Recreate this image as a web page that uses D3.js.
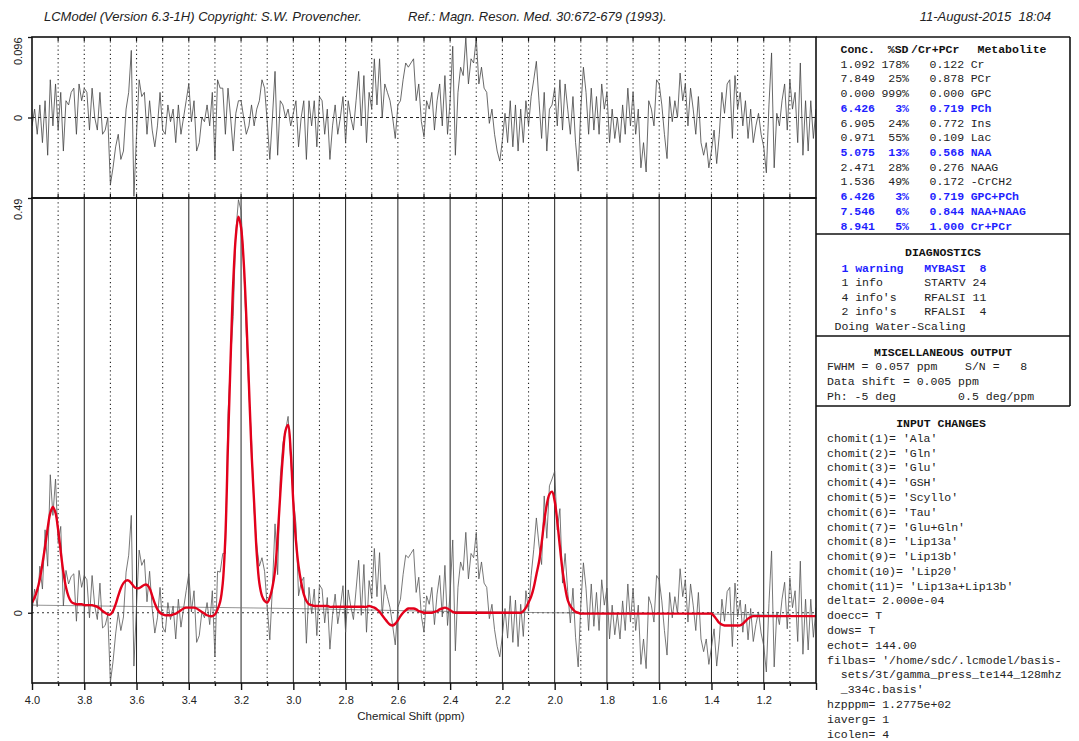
<!DOCTYPE html>
<html>
<head>
<meta charset="utf-8">
<script src="https://cdn.jsdelivr.net/npm/d3@7"></script>
<style>
  body { margin: 0; background: #fff; }
  svg { display: block; font-family: "Liberation Sans", Arial, sans-serif; }
  .mono { font-family: "Liberation Mono", "Courier New", monospace; font-size: 11.5px; white-space: pre; }
</style>
</head>
<body>
<svg id="chart" width="1079" height="741"></svg>
<script>
// LCModel の出力ページ（スペクトル + フィット + 残差 + 結果表）

// ---- スペクトルデータ（4.00 → 1.00 ppm, 0.01 ppm 刻み）----
const fitValues = [
  0.012, 0.018, 0.027, 0.040, 0.058, 0.078, 0.100, 0.118, 0.125, 0.118,
  0.098, 0.072, 0.048, 0.030, 0.019, 0.013, 0.011, 0.010, 0.010, 0.010,
  0.009, 0.009, 0.009, 0.009, 0.008, 0.007, 0.005, 0.002, 0.000, -0.002,
  -0.002, 0.002, 0.010, 0.020, 0.029, 0.035, 0.038, 0.038, 0.035, 0.031,
  0.029, 0.029, 0.031, 0.033, 0.033, 0.029, 0.020, 0.011, 0.004, 0.000,
  -0.002, -0.003, -0.003, -0.003, -0.002, -0.001, 0.001, 0.003, 0.005, 0.006,
  0.006, 0.006, 0.006, 0.005, 0.003, 0.001, -0.001, -0.003, -0.004, -0.004,
  -0.002, 0.004, 0.013, 0.035, 0.090, 0.200, 0.300, 0.390, 0.445, 0.468,
  0.455, 0.415, 0.350, 0.270, 0.190, 0.130, 0.070, 0.035, 0.020, 0.014,
  0.012, 0.018, 0.030, 0.050, 0.090, 0.140, 0.185, 0.215, 0.222, 0.190,
  0.130, 0.085, 0.055, 0.036, 0.022, 0.014, 0.010, 0.009, 0.008, 0.008,
  0.008, 0.008, 0.008, 0.008, 0.007, 0.007, 0.007, 0.007, 0.007, 0.007,
  0.007, 0.007, 0.007, 0.007, 0.007, 0.007, 0.007, 0.007, 0.007, 0.008,
  0.007, 0.006, 0.004, 0.001, -0.003, -0.007, -0.011, -0.014, -0.015, -0.013,
  -0.009, -0.004, 0.000, 0.003, 0.005, 0.005, 0.005, 0.004, 0.002, 0.001,
  0.000, 0.000, 0.000, 0.000, 0.001, 0.002, 0.004, 0.005, 0.006, 0.005,
  0.003, 0.001, 0.000, 0.000, 0.000, 0.000, 0.000, 0.000, 0.000, 0.000,
  0.000, 0.000, 0.000, 0.000, 0.000, 0.000, 0.000, 0.000, 0.000, 0.000,
  0.000, 0.000, 0.000, 0.000, 0.000, 0.000, 0.000, 0.000, 0.002, 0.006,
  0.012, 0.019, 0.030, 0.045, 0.060, 0.082, 0.108, 0.128, 0.140, 0.143,
  0.132, 0.108, 0.078, 0.050, 0.030, 0.015, 0.008, 0.004, 0.001, 0.000,
  -0.001, -0.001, -0.001, -0.001, -0.001, -0.001, -0.001, -0.001, -0.001, -0.001,
  -0.001, -0.001, -0.001, -0.001, -0.001, -0.001, -0.001, -0.001, -0.001, -0.001,
  -0.001, -0.001, -0.001, -0.001, -0.001, -0.001, -0.001, -0.001, -0.001, -0.001,
  -0.001, -0.001, -0.001, -0.001, -0.001, -0.001, -0.001, -0.001, -0.001, -0.001,
  -0.001, -0.001, -0.001, -0.001, -0.001, -0.001, -0.001, -0.001, -0.001, -0.001,
  -0.001, -0.004, -0.008, -0.012, -0.014, -0.015, -0.015, -0.015, -0.015, -0.015,
  -0.015, -0.015, -0.013, -0.010, -0.007, -0.005, -0.004, -0.004, -0.004, -0.004,
  -0.004, -0.004, -0.004, -0.004, -0.004, -0.004, -0.004, -0.004, -0.004, -0.004,
  -0.004, -0.004, -0.004, -0.004, -0.004, -0.004, -0.004, -0.004, -0.004, -0.004, -0.004
];

// 上段パネルの残差（データ − フィット）
const residual = [
  -0.010, 0.010, -0.020, 0.015, -0.030, 0.020, -0.045, 0.045, -0.010, 0.040,
  -0.015, 0.030, -0.040, 0.020, 0.015, 0.030, 0.035, -0.020, 0.040, 0.020,
  0.035, 0.030, -0.015, 0.035, 0.000, -0.015, 0.030, -0.020, -0.015, 0.000,
  -0.080, -0.060, -0.035, -0.020, -0.050, -0.040, 0.010, 0.030, 0.080, -0.094,
  -0.020, 0.045, 0.025, 0.030, -0.020, 0.020, -0.015, -0.035, -0.010, 0.030,
  -0.015, -0.020, 0.015, -0.005, 0.010, -0.030, 0.015, -0.020, 0.000, 0.020,
  0.040, -0.005, 0.020, -0.040, -0.030, 0.000, -0.005, 0.015, -0.010, 0.030,
  -0.050, 0.045, 0.035, 0.035, -0.020, 0.035, 0.000, -0.040, 0.005, 0.020,
  0.020, 0.000, -0.020, -0.010, 0.015, -0.010, 0.010, 0.020, 0.045, 0.035,
  -0.005, -0.050, 0.000, 0.055, -0.045, 0.020, 0.015, 0.000, 0.010, -0.010,
  0.005, 0.020, -0.035, 0.000, 0.020, -0.050, 0.020, -0.010, 0.020, -0.035,
  0.025, 0.020, -0.020, 0.010, -0.050, -0.010, 0.015, -0.020, 0.000, 0.025,
  -0.030, 0.020, 0.000, -0.015, 0.020, 0.055, -0.010, 0.050, -0.030, 0.030,
  0.010, 0.070, 0.015, 0.070, 0.000, 0.040, 0.030, 0.020, 0.000, -0.025,
  0.015, 0.020, 0.045, 0.065, 0.060, 0.065, 0.070, 0.020, 0.040, -0.005,
  -0.023, 0.020, 0.010, 0.030, -0.015, 0.020, 0.040, -0.010, 0.050, -0.020,
  0.020, 0.085, -0.045, 0.030, 0.060, 0.050, 0.095, 0.040, 0.070, 0.065,
  0.095, 0.040, 0.060, 0.035, 0.030, -0.007, 0.010, -0.020, -0.040, -0.052,
  -0.027, 0.005, -0.030, 0.020, -0.035, 0.015, -0.040, 0.010, -0.030, 0.020,
  -0.010, 0.025, 0.045, 0.067, 0.020, -0.025, 0.030, -0.040, 0.010, 0.015,
  0.035, -0.010, 0.045, -0.015, 0.040, 0.010, -0.020, 0.025, -0.030, -0.064,
  0.010, 0.060, 0.030, -0.020, 0.035, -0.015, 0.025, -0.020, 0.040, 0.010,
  0.030, -0.030, 0.010, -0.025, 0.000, -0.030, 0.015, -0.020, 0.035, -0.010,
  0.030, -0.020, 0.010, -0.060, -0.030, -0.065, 0.020, 0.010, -0.010, 0.045,
  0.040, 0.015, -0.020, -0.049, 0.025, -0.005, 0.020, 0.000, 0.053, 0.020,
  0.040, -0.010, 0.035, 0.010, -0.020, 0.025, -0.030, -0.045, -0.030, -0.060,
  -0.040, -0.015, -0.055, -0.020, 0.030, 0.005, 0.040, 0.045, -0.025, 0.050,
  0.010, 0.030, -0.010, 0.020, -0.025, 0.010, -0.030, -0.010, 0.005, -0.020,
  -0.035, -0.066, 0.015, 0.077, -0.060, 0.005, -0.010, 0.020, 0.040, -0.015,
  0.045, 0.010, 0.030, -0.030, 0.065, -0.045, 0.020, -0.040, 0.020, -0.025, 0.010
];

const baselinePpm = [4.0, 3.5, 3.0, 2.5, 2.0, 1.5, 1.0];
const baselineValues = [0.009, 0.007, 0.005, 0.002, 0.000, -0.001, -0.004];

// ---- 結果表 ----
const concs = ["1.092", "7.849", "0.000", "6.426", "6.905", "0.971", "5.075", "2.471", "1.536", "6.426", "7.546", "8.941"];
const sds = ["178%", "25%", "999%", "3%", "24%", "55%", "13%", "28%", "49%", "3%", "6%", "5%"];
const ratios = ["0.122", "0.878", "0.000", "0.719", "0.772", "0.109", "0.568", "0.276", "0.172", "0.719", "0.844", "1.000"];
const metabolites = ["Cr", "PCr", "GPC", "PCh", "Ins", "Lac", "NAA", "NAAG", "-CrCH2", "GPC+PCh", "NAA+NAAG", "Cr+PCr"];
const highlighted = [false, false, false, true, false, false, true, false, false, true, true, true];

const diagnostics = [
  " 1 warning   MYBASI  8",
  " 1 info      STARTV 24",
  " 4 info's    RFALSI 11",
  " 2 info's    RFALSI  4",
  "Doing Water-Scaling"
];
const miscOutput = [
  "FWHM = 0.057 ppm    S/N =   8",
  "Data shift = 0.005 ppm",
  "Ph: -5 deg         0.5 deg/ppm"
];
const inputChanges = [
  "chomit(1)= 'Ala'", "chomit(2)= 'Gln'", "chomit(3)= 'Glu'", "chomit(4)= 'GSH'",
  "chomit(5)= 'Scyllo'", "chomit(6)= 'Tau'", "chomit(7)= 'Glu+Gln'", "chomit(8)= 'Lip13a'",
  "chomit(9)= 'Lip13b'", "chomit(10)= 'Lip20'", "chomit(11)= 'Lip13a+Lip13b'",
  "deltat= 2.000e-04", "doecc= T", "dows= T", "echot= 144.00",
  "filbas= '/home/sdc/.lcmodel/basis-",
  "  sets/3t/gamma_press_te144_128mhz",
  "  _334c.basis'",
  "hzpppm= 1.2775e+02", "iaverg= 1", "icolen= 4"
];

const svg = d3.select("#chart");

// ppm 軸（0.01 ppm グリッド）
const ppm = d3.range(fitValues.length).map(i => +(4.0 - i * 0.01).toFixed(2));
// LCModel の残差はデータ − フィットなので、データはその和
const spectrum = fitValues.map((f, i) => f + residual[i]);

const left = 32, right = 816;
const topY0 = 37, topY1 = 198, mainY1 = 683;

const x = d3.scaleLinear().domain([4.0, 1.0]).range([left, right]);
const yTop = d3.scaleLinear().domain([-0.096, 0.096]).range([topY1, topY0]);
const yMain = d3.scaleLinear().domain([-0.083, 0.49]).range([mainY1, topY1]);

const defs = svg.append("defs");
defs.append("clipPath").attr("id", "clipTop").append("rect")
  .attr("x", left).attr("y", topY0).attr("width", right - left).attr("height", topY1 - topY0);
defs.append("clipPath").attr("id", "clipMain").append("rect")
  .attr("x", left).attr("y", topY1).attr("width", right - left).attr("height", mainY1 - topY1);

// ---- グリッド（0.1 ppm ごと）----
const tenths = d3.range(40, 9, -1).map(d => d / 10);
const inner = tenths.filter(d => d < 3.95 && d > 1.05);

svg.append("g").selectAll("line").data(inner).enter().append("line")
  .attr("x1", d => x(d)).attr("x2", d => x(d))
  .attr("y1", topY0).attr("y2", topY1)
  .attr("stroke", "#222").attr("stroke-width", 1.1).attr("stroke-dasharray", "1.2,3");

svg.append("g").selectAll("line").data(inner).enter().append("line")
  .attr("x1", d => x(d)).attr("x2", d => x(d))
  .attr("y1", topY1).attr("y2", mainY1)
  .attr("stroke", "#222")
  .attr("stroke-width", d => Math.round(d * 10) % 2 === 0 ? 1 : 1.1)
  .attr("stroke-dasharray", d => Math.round(d * 10) % 2 === 0 ? null : "1.2,3");

// ゼロ線
svg.append("line").attr("x1", left).attr("x2", right)
  .attr("y1", yTop(0)).attr("y2", yTop(0))
  .attr("stroke", "#222").attr("stroke-dasharray", "3,3");
svg.append("line").attr("x1", left).attr("x2", right)
  .attr("y1", yMain(0)).attr("y2", yMain(0))
  .attr("stroke", "#333").attr("stroke-dasharray", "2,3");

// ---- 残差 ----
svg.append("path")
  .datum(residual)
  .attr("clip-path", "url(#clipTop)")
  .attr("fill", "none").attr("stroke", "#444").attr("stroke-width", 0.8)
  .attr("d", d3.line().x((d, i) => x(ppm[i])).y(d => yTop(d)));

// ---- ベースライン・データ・フィット ----
const gMain = svg.append("g").attr("clip-path", "url(#clipMain)");

gMain.append("path")
  .datum(baselineValues)
  .attr("fill", "none").attr("stroke", "#777").attr("stroke-width", 0.8)
  .attr("d", d3.line().x((d, i) => x(baselinePpm[i])).y(d => yMain(d)).curve(d3.curveMonotoneX));

gMain.append("path")
  .datum(spectrum)
  .attr("fill", "none").attr("stroke", "#555").attr("stroke-width", 0.8)
  .attr("d", d3.line().x((d, i) => x(ppm[i])).y(d => yMain(d)));

gMain.append("path")
  .datum(fitValues)
  .attr("fill", "none").attr("stroke", "#e3001b").attr("stroke-width", 2.4)
  .attr("stroke-linejoin", "round")
  .attr("d", d3.line().x((d, i) => x(ppm[i])).y(d => yMain(d)).curve(d3.curveCatmullRom));

// ---- 枠 ----
svg.append("rect").attr("x", left).attr("y", topY0).attr("width", right - left).attr("height", topY1 - topY0)
  .attr("fill", "none").attr("stroke", "#111").attr("stroke-width", 1.6);
svg.append("rect").attr("x", left).attr("y", topY1).attr("width", right - left).attr("height", mainY1 - topY1)
  .attr("fill", "none").attr("stroke", "#111").attr("stroke-width", 1.6);

// ---- 軸 ----
const fmt = d => (Math.round(d * 10) % 2 === 0 && d > 1.05) ? d.toFixed(1) : "";

const xAxis = svg.append("g")
  .attr("transform", `translate(0,${mainY1})`)
  .call(d3.axisBottom(x).tickValues(tenths).tickFormat(fmt).tickSizeOuter(0));
xAxis.select(".domain").remove();
xAxis.selectAll(".tick line")
  .attr("y2", d => Math.round(d * 10) % 2 === 0 ? 7 : 3)
  .attr("stroke", "#111").attr("stroke-width", 1.4);
xAxis.selectAll(".tick text")
  .attr("y", 13).attr("font-size", 11).attr("fill", "#222")
  .attr("font-family", "Liberation Sans, Arial, sans-serif");

// 上端の小目盛
[[topY0, 4], [topY1, -4]].forEach(([yy, len]) => {
  svg.append("g").selectAll("line").data(inner).enter().append("line")
    .attr("x1", d => x(d)).attr("x2", d => x(d))
    .attr("y1", yy).attr("y2", yy + len)
    .attr("stroke", "#111").attr("stroke-width", 1.2);
});

function leftAxis(scale, values, labels) {
  const g = svg.append("g")
    .attr("transform", `translate(${left},0)`)
    .call(d3.axisLeft(scale).tickValues(values).tickSize(4).tickFormat((d, i) => labels[i]));
  g.select(".domain").remove();
  g.selectAll(".tick line").attr("stroke", "#111").attr("stroke-width", 1.3);
  g.selectAll(".tick text")
    .attr("x", null).attr("dy", null)
    .attr("transform", "translate(-10,0) rotate(-90)")
    .attr("text-anchor", d => d === 0 ? "middle" : "end")
    .attr("font-size", 11).attr("fill", "#222")
    .attr("font-family", "Liberation Sans, Arial, sans-serif");
}
leftAxis(yTop, [0.096, 0], ["0.096", "0"]);
leftAxis(yMain, [0.49, 0], ["0.49", "0"]);

svg.append("text")
  .attr("x", 411).attr("y", 720)
  .attr("text-anchor", "middle").attr("font-size", 11.5).attr("fill", "#222")
  .text("Chemical Shift (ppm)");

// ---- 見出し ----
const header = svg.append("g").attr("font-style", "italic").attr("font-size", 13).attr("fill", "#222");
header.append("text").attr("x", 44).attr("y", 21).text("LCModel (Version 6.3-1H) Copyright: S.W. Provencher.");
header.append("text").attr("x", 408).attr("y", 21).text("Ref.: Magn. Reson. Med. 30:672-679 (1993).");
header.append("text").attr("x", 1051).attr("y", 21).attr("text-anchor", "end")
  .attr("xml:space", "preserve").text("11-August-2015  18:04");

// ---- 右側の表 ----
const boxR = 1070;
const box = svg.append("g").attr("stroke", "#111").attr("stroke-width", 1.6);
box.append("line").attr("x1", right).attr("x2", boxR).attr("y1", topY0).attr("y2", topY0);
box.append("line").attr("x1", boxR).attr("x2", boxR).attr("y1", topY0).attr("y2", 406);
[234, 336, 406].forEach(yy => {
  box.append("line").attr("x1", right).attr("x2", boxR).attr("y1", yy).attr("y2", yy);
});

const charW = 6.85, tableX = 840.5;
const blue = "#1f1fff";
const table = svg.append("g").attr("class", "mono");

const hdrY = 52.9, rowH = 14.72;
[["Conc.", 0], ["%SD", 6.9], ["/Cr+PCr", 10.3], ["Metabolite", 20]].forEach(([t, c]) => {
  table.append("text").attr("x", tableX + c * charW).attr("y", hdrY)
    .attr("font-weight", "bold").attr("fill", "#111").text(t);
});

const rows = table.selectAll("g.row").data(metabolites).enter().append("g")
  .attr("transform", (d, i) => `translate(0,${hdrY + (i + 1) * rowH})`)
  .attr("fill", (d, i) => highlighted[i] ? blue : "#222")
  .attr("font-weight", (d, i) => highlighted[i] ? "bold" : "normal");
rows.append("text").attr("x", tableX).text((d, i) => concs[i]);
rows.append("text").attr("x", tableX + 10 * charW).attr("text-anchor", "end").text((d, i) => sds[i]);
rows.append("text").attr("x", tableX + 13 * charW).text((d, i) => ratios[i]);
rows.append("text").attr("x", tableX + 19 * charW).text(d => d);

function section(title, titleX, titleY, lines, lineX, lineY0, lineH, blueFirst) {
  const g = svg.append("g").attr("class", "mono");
  g.append("text").attr("x", titleX).attr("y", titleY).attr("text-anchor", "middle")
    .attr("font-weight", "bold").attr("fill", "#111").text(title);
  g.selectAll("text.line").data(lines).enter().append("text")
    .attr("class", "line")
    .attr("xml:space", "preserve")
    .attr("x", lineX).attr("y", (d, i) => lineY0 + i * lineH)
    .attr("fill", (d, i) => blueFirst && i === 0 ? blue : "#222")
    .attr("font-weight", (d, i) => blueFirst && i === 0 ? "bold" : "normal")
    .text(d => d);
}
section("DIAGNOSTICS", 943, 256.3, diagnostics, 834.5, 271.5, 14.6, true);
section("MISCELLANEOUS OUTPUT", 943, 356.3, miscOutput, 827, 369.7, 15, false);
section("INPUT CHANGES", 941, 426.7, inputChanges, 827, 441.8, 14.79, false);
</script>
</body>
</html>
